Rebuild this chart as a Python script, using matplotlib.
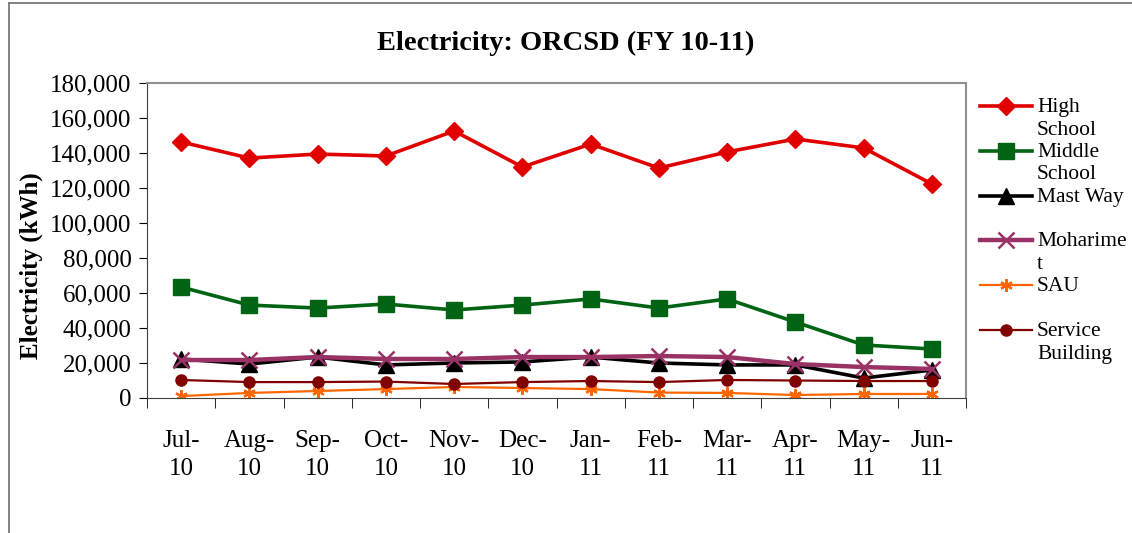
import matplotlib
matplotlib.use('Agg')
import matplotlib.pyplot as plt
from matplotlib.lines import Line2D
from matplotlib.ticker import FuncFormatter, FixedLocator

plt.rcParams['font.family'] = ['Liberation Serif', 'DejaVu Serif']
plt.rcParams['font.size'] = 18

months = ['Jul-\n10', 'Aug-\n10', 'Sep-\n10', 'Oct-\n10', 'Nov-\n10', 'Dec-\n10',
          'Jan-\n11', 'Feb-\n11', 'Mar-\n11', 'Apr-\n11', 'May-\n11', 'Jun-\n11']

high_school = [146300, 137100, 139400, 138300, 152600, 132000,
               145100, 131400, 140600, 148000, 142900, 122300]
middle_school = [63400, 53100, 51400, 53700, 50300, 53100,
                 56600, 51400, 56600, 43400, 30300, 28000]
mast_way = [22300, 19400, 23400, 18900, 20000, 20600,
            23400, 20000, 18900, 18900, 11400, 16000]
moharimet = [21700, 21700, 23400, 22300, 22300, 23400,
             23400, 24000, 23400, 19400, 17700, 16600]
sau = [1100, 2900, 4000, 5100, 6300, 5700,
       5100, 3100, 2900, 1700, 2300, 2300]
service = [10300, 9100, 9100, 9400, 8000, 9100,
           9700, 9100, 10300, 10000, 9700, 9700]

series = [
    (high_school, 'High\nSchool', dict(color='#E00000', lw=2.6, marker='D', ms=9)),
    (middle_school, 'Middle\nSchool', dict(color='#006414', lw=2.6, marker='s', ms=11)),
    (mast_way, 'Mast Way', dict(color='black', lw=2.6, marker='^', ms=11)),
    (moharimet, 'Moharime\nt', dict(color='#993366', lw=3.2, marker='x', ms=11, mew=1.8)),
    (sau, 'SAU', dict(color='#FF6600', lw=1.6, marker=(6, 2, 0), ms=9, mew=1.6)),
    (service, 'Service\nBuilding', dict(color='#800000', lw=1.6, marker='o', ms=8)),
]

W, H = 1132, 533
fig = plt.figure(figsize=(W / 100, H / 100), dpi=100)
# chart-area border (left and top only visible)
fig.add_artist(Line2D([9 / W, 9 / W], [0, 1 - 3 / H], color='#707070', lw=1.2,
                      transform=fig.transFigure))
fig.add_artist(Line2D([9 / W, 1], [1 - 3 / H, 1 - 3 / H], color='#707070', lw=1.2,
                      transform=fig.transFigure))

ax = fig.add_axes([147 / W, 1 - 398 / H, 819 / W, 315 / H])

x = list(range(len(months)))
for vals, label, style in series:
    ax.plot(x, vals, **style)

ax.set_xlim(-0.5, len(months) - 0.5)
ax.set_ylim(0, 180000)
ax.set_yticks(range(0, 180001, 20000))
ax.yaxis.set_major_formatter(FuncFormatter(lambda v, p: '{:,.0f}'.format(v)))
ax.tick_params(axis='y', length=6, pad=5, labelsize=18)
ax.set_xticks(x)
ax.set_xticklabels(months, linespacing=1.35)
ax.tick_params(axis='x', which='major', length=0, pad=23, labelsize=18)
ax.xaxis.set_minor_locator(FixedLocator([i - 0.5 for i in range(len(months) + 1)]))
ax.tick_params(axis='x', which='minor', length=7, direction='out')

for s in ['top', 'right']:
    ax.spines[s].set_color('#909090')
    ax.spines[s].set_linewidth(1.5)
ax.spines['left'].set_color('#404040')
ax.spines['bottom'].set_color('#404040')

ax.set_ylabel('Electricity (kWh)', fontweight='bold', fontsize=18)
ax.yaxis.set_label_coords(-0.127, 0.42)
fig.text(0.5, 1 - 43 / H, 'Electricity: ORCSD (FY 10-11)', ha='center', va='center',
         fontweight='bold', fontsize=20.5)

# legend: marker row lines up with first text line
for i, (vals, label, style) in enumerate(series):
    yy = 1 - (106 + 44.8 * i) / H
    fig.add_artist(Line2D([980 / W, 1032 / W], [yy, yy], transform=fig.transFigure,
                          color=style['color'], lw=style['lw']))
    mk = {k: v for k, v in style.items() if k not in ('lw',)}
    fig.add_artist(Line2D([1006 / W], [yy], transform=fig.transFigure, ls='none', **mk))
    fig.text(1037 / W, yy + 8 / H, label, ha='left', va='top', fontsize=15.5,
             linespacing=1.25)

fig.savefig('out.png', dpi=100)
